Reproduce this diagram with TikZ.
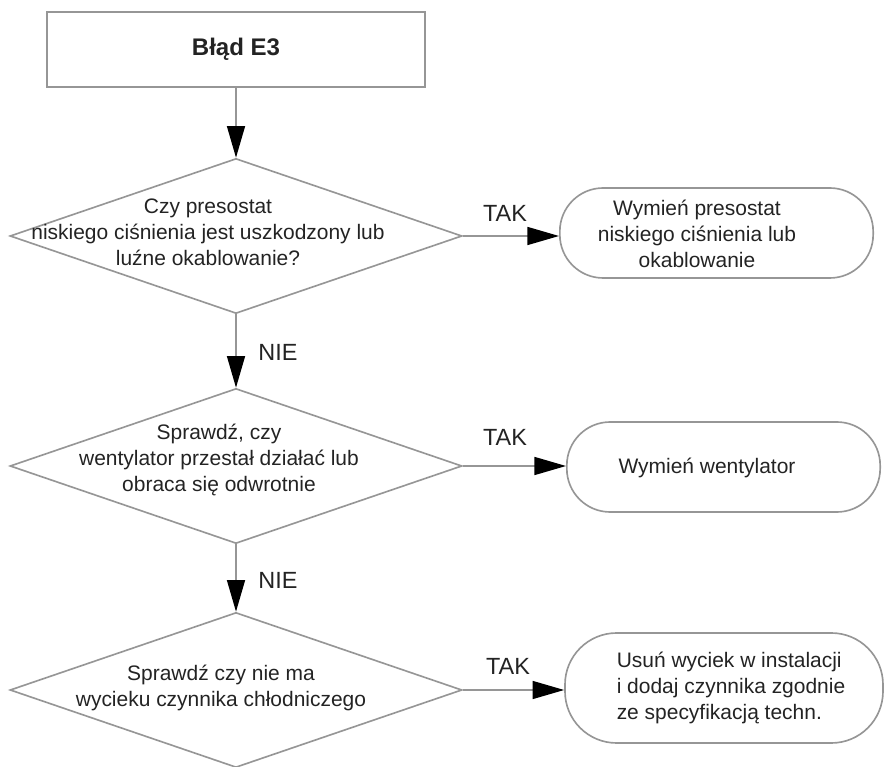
\documentclass[tikz,border=0pt]{standalone}
\usepackage{fontspec}
\setmainfont{Liberation Sans}
\usepackage{tikz}
\usetikzlibrary{positioning, arrows.meta, shapes.geometric}
\definecolor{flowline}{RGB}{150, 150, 150}
\definecolor{flowtext}{RGB}{35, 35, 35}
\tikzset{
    errbox/.style={rectangle, draw=flowline, line width=1.4pt, minimum width=11.34cm, minimum height=2.25cm, inner sep=0pt},
    decision/.style={diamond, draw=flowline, line width=1.4pt, minimum width=13.56cm, minimum height=4.65cm, inner sep=0pt},
    terminal/.style={rectangle, rounded corners=1.3cm, draw=flowline, line width=1.4pt, minimum width=9.4cm, minimum height=2.7cm, inner sep=0pt},
    flowtxt/.style={text=flowtext, font=\fontsize{17.9}{22.1}\selectfont, align=center, inner sep=0pt},
    answer/.style={text=flowtext, font=\fontsize{20}{24}\selectfont, inner sep=0pt},
    flowarrow/.style={draw=flowline, line width=1.4pt, -{Triangle[length=0.95cm, width=0.54cm, color=black]}}
}

\begin{document}
\begin{tikzpicture}[x=0.03cm, y=-0.03cm]
    \useasboundingbox (0,0) rectangle (885,767);

    % start box
    \node[errbox] (err) at (236,49.5) {};
    \node[flowtxt, font=\fontsize{20.5}{24}\selectfont\bfseries] (errtxt) at (236,49.5) {Błąd E3};

    % decisions
    \node[decision] (q1) at (236,236) {};
    \node[flowtxt] (q1txt) at (208,232) {Czy presostat\\niskiego ciśnienia jest uszkodzony lub\\luźne okablowanie?};

    \node[decision] (q2) at (236,466) {};
    \node[flowtxt] (q2txt) at (219,460) {Sprawdź, czy\\wentylator przestał działać lub\\obraca się odwrotnie};

    \node[decision] (q3) at (236,690) {};
    \node[flowtxt] (q3txt) at (221,688) {Sprawdź czy nie ma\\wycieku czynnika chłodniczego};

    % actions
    \node[terminal] (t1) at (716.5,233) {};
    \node[flowtxt] (t1txt) at (697,234) {Wymień presostat\\niskiego ciśnienia lub\\okablowanie};

    \node[terminal] (t2) at (723.5,467) {};
    \node[flowtxt] (t2txt) at (707,468) {Wymień wentylator};

    \node[terminal, minimum width=9.54cm, minimum height=3.3cm, rounded corners=1.55cm] (t3) at (724,688) {};
    \node[flowtxt, align=left] (t3txt) at (731,688) {Usuń wyciek w instalacji\\i dodaj czynnika zgodnie\\ze specyfikacją techn.};

    % connectors
    \draw[flowarrow] (err) -- (q1);
    \draw[flowarrow] (q1) -- (q2);
    \draw[flowarrow] (q2) -- (q3);
    \draw[flowarrow] (q1.east) -- (q1.east -| t1.west);
    \draw[flowarrow] (q2.east) -- (q2.east -| t2.west);
    \draw[flowarrow] (q3.east) -- (q3.east -| t3.west);

    \node[answer] (tak1) at (505,213) {TAK};
    \node[answer] (tak2) at (505,437) {TAK};
    \node[answer] (tak3) at (508,666) {TAK};
    \node[answer] (nie1) at (278,352) {NIE};
    \node[answer] (nie2) at (278,580) {NIE};
\end{tikzpicture}
\end{document}
